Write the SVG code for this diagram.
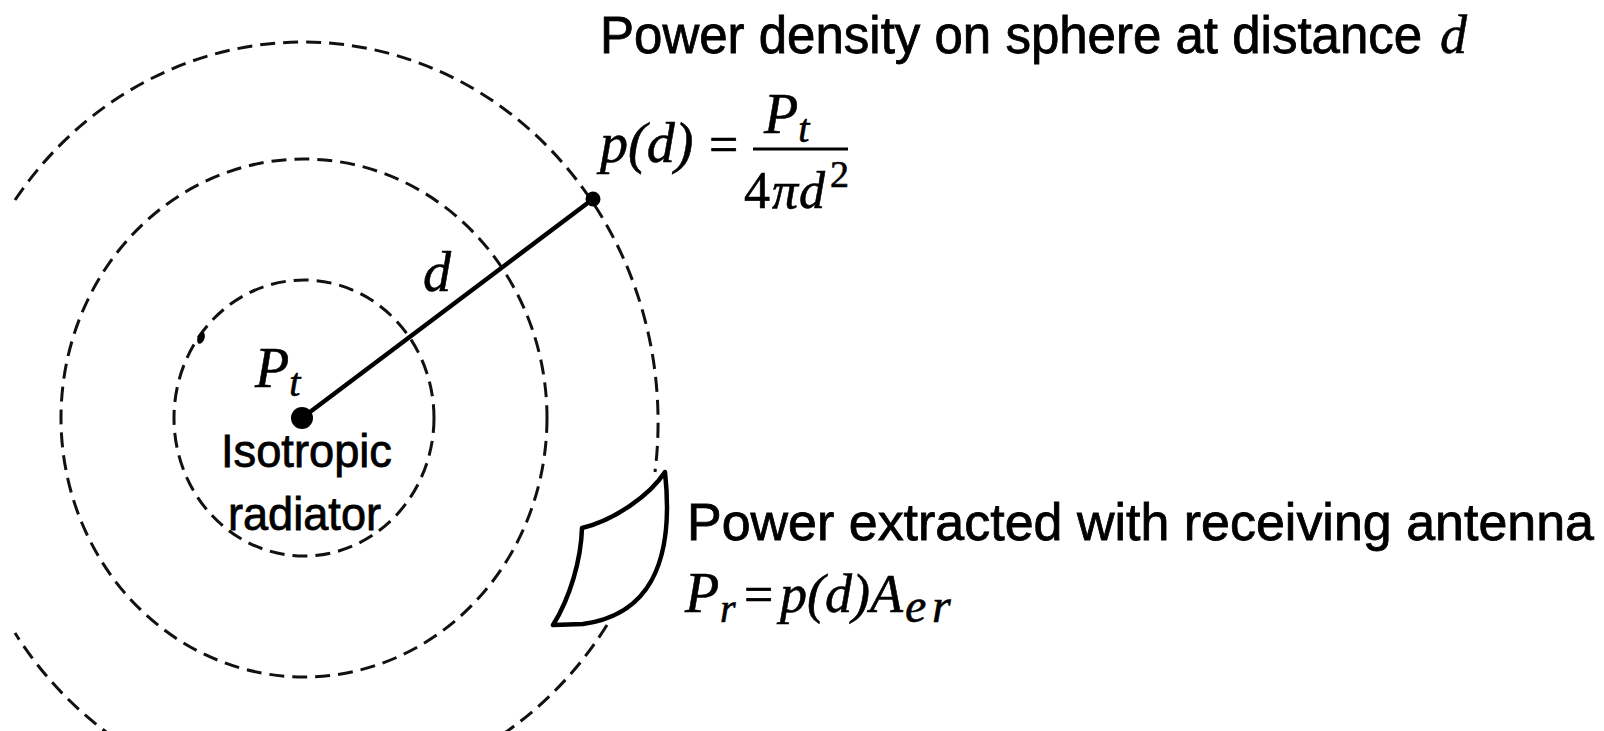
<svg xmlns="http://www.w3.org/2000/svg" width="1604" height="731" viewBox="0 0 1604 731">
<style>
.dash{fill:none;stroke:#111;stroke-width:3;stroke-dasharray:15 8}
.solid{fill:none;stroke:#000;stroke-width:4.5;stroke-linecap:round}
.sans{font-family:"Liberation Sans",Arial,sans-serif;fill:#000;stroke:#000;stroke-width:0.8}
.math{font-family:"Liberation Serif","Times New Roman",serif;font-style:italic;fill:#000;stroke:#000;stroke-width:0.6}
.up{font-family:"Liberation Serif","Times New Roman",serif;font-style:normal;fill:#000;stroke:#000;stroke-width:0.6}
</style>
<rect width="1604" height="731" fill="#fff"/>
<g id="spheres">
  <ellipse id="sphere-inner" class="dash" cx="304" cy="418" rx="130" ry="138"/>
  <ellipse id="sphere-middle" class="dash" cx="304" cy="418" rx="243" ry="259"/>
  <path id="sphere-outer-top" class="dash" d="M 15 200 A 355 380 0 0 1 655 472"/>
  <path id="sphere-outer-lowright" class="dash" d="M 607 625 A 355 380 0 0 1 454 762"/>
  <path id="sphere-outer-lowleft" class="dash" d="M 154 762 A 355 380 0 0 1 15 633"/>
  <ellipse cx="201" cy="338" rx="3.5" ry="6" transform="rotate(20 201 338)" fill="#000"/>
</g>
<g id="connectors">
  <line class="solid" x1="302" y1="418" x2="593" y2="199"/>
</g>
<g id="radiator">
  <circle cx="302" cy="418" r="11" fill="#000"/>
  <text class="math" x="255" y="387" font-size="56">P<tspan font-size="40" dy="9">t</tspan></text>
  <text class="sans" x="221" y="467" font-size="47" textLength="171" lengthAdjust="spacingAndGlyphs">Isotropic</text>
  <text class="sans" x="228" y="530" font-size="47" textLength="153" lengthAdjust="spacingAndGlyphs">radiator</text>
</g>
<g id="distance-label">
  <text class="math" x="423" y="291" font-size="56">d</text>
</g>
<g id="sphere-point">
  <circle cx="593" cy="199" r="7.5" fill="#000"/>
  <text class="sans" x="600" y="53" font-size="51">Power density on sphere at distance</text>
  <text class="math" x="1440" y="53" font-size="54">d</text>
  <text class="math" x="600" y="162" font-size="56">p(d)</text>
  <text class="up" x="709" y="162" font-size="52">=</text>
  <line x1="753" y1="149" x2="848" y2="149" stroke="#000" stroke-width="3"/>
  <text class="math" x="764" y="133" font-size="56">P<tspan font-size="40" dy="9">t</tspan></text>
  <text class="up" x="744" y="208" font-size="52">4</text>
  <text class="math" x="772" y="208" font-size="52">π</text>
  <text class="math" x="799" y="208" font-size="52">d</text>
  <text class="up" x="830" y="187" font-size="38">2</text>
</g>
<g id="receiving-antenna">
  <path d="M 665 472 C 650 495 615 520 582 528 C 581 560 570 598 553 625 L 583 624 C 648 615 675 565 665 472 Z" fill="#fff" stroke="#000" stroke-width="4.5" stroke-linejoin="round"/>
  <text class="sans" x="687" y="540" font-size="52" textLength="907" lengthAdjust="spacingAndGlyphs">Power extracted with receiving antenna</text>
  <text class="math" x="685" y="612" font-size="56">P</text>
  <text class="math" x="720" y="622" font-size="40">r</text>
  <text class="up" x="744" y="612" font-size="52">=</text>
  <text class="math" x="780" y="612" font-size="54">p(d)A</text>
  <text class="math" x="905" y="622" font-size="48">e</text>
  <text class="math" x="932" y="622" font-size="48">r</text>
</g>
</svg>
